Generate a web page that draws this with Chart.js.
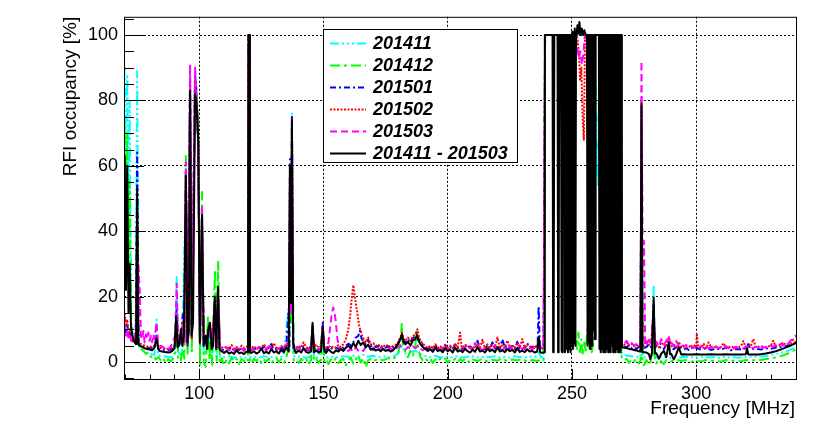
<!DOCTYPE html>
<html>
<head>
<meta charset="utf-8">
<script src="https://cdn.jsdelivr.net/npm/chart.js@4.4.1/dist/chart.umd.min.js"></script>
<style>
body { margin: 0; background: #fff; }
#occ { display: block; }
</style>
</head>
<body>
<canvas id="occ" width="830" height="423"></canvas>
<script>
// RFI occupancy per month, [frequency MHz, occupancy %]
var monthLabels = ['201411', '201412', '201501', '201502', '201503', '201411 - 201503'];

var occ201411 = [[69.7,88],[70,90],[70.5,62],[71,88],[71.5,45],[72,80],[72.6,12],[73.5,8],[74.4,6],[75,89],[75.6,5],[76.5,3.8],[78,3],[80,2.5],[82,2.2],[82.8,13],[83.4,2],[85,1.8],[87,1.6],[89,1.5],[90.3,3],[90.9,26],[91.5,3],[93,2],[94.6,55],[95.3,4],[96.3,88],[97,6],[98.3,89],[99,84],[99.6,60],[100.3,3],[101.1,40],[101.8,2],[103.5,6],[104.3,10],[105,2],[106.3,15],[107,1.5],[107.6,18],[108.3,1.6],[110,1.4],[112,1.8],[114,1.3],[116,1.6],[118,1.2],[119.6,1.5],[119.8,100],[120.2,100],[120.4,1.5],[122,1.7],[124,1.3],[126,1.8],[128,1.4],[130,1.6],[132,1.3],[134,1.9],[135.9,16.7],[136.3,3],[136.5,58],[136.9,15],[137.3,76],[137.8,2],[139,1.5],[141,1.8],[143,1.3],[145,1.6],[145.6,10],[146.2,1.5],[148,1.4],[149.7,9],[150.3,1.6],[152,1.3],[154,1.7],[156,1.4],[158,1.8],[160,1.5],[162,2],[164,1.7],[166,2.2],[168,1.6],[170,1.9],[172,1.5],[174,1.8],[176,1.4],[178,1.7],[180,2.5],[181.5,5],[183,2.6],[185,3],[187,3.5],[189,2.4],[191,1.8],[193,1.5],[195,1.9],[197,1.4],[199,1.7],[201,1.3],[203,1.8],[205,1.5],[207,1.4],[209,1.9],[211,1.5],[213,1.3],[215,1.7],[217,1.5],[219,1.8],[221,1.4],[223,1.6],[225,1.3],[227,1.8],[229,1.5],[231,1.4],[233,1.7],[235,1.5],[236.7,3],[237.5,1.4],[238.6,1.6],[239.2,100],[259.4,100],[260,62],[260.5,54],[261,100],[269.7,100],[270,2.5],[272,2],[274,1.8],[276,1.6],[277.6,1.5],[278,75],[278.4,1.5],[280,1.4],[282.4,1.6],[282.9,23.5],[283.4,1.5],[285,1.3],[287,1.6],[289,1.2],[291,1.5],[293,1.3],[295,1.6],[297,1.4],[299,1.5],[301,1.3],[303,1.6],[305,1.4],[307,1.5],[309,1.3],[311,1.6],[313,1.4],[315,1.5],[317,1.3],[319,1.6],[321,1.5],[323,1.7],[325,1.6],[327,1.8],[329,2],[331,2.3],[333,2.6],[335,3],[337,3.5],[339,4.2],[340.6,5]];

var occ201412 = [[69.7,70],[70,73],[70.5,50],[71,70],[71.5,30],[72,55],[72.6,10],[73.5,7],[74.4,6],[75,50],[75.6,5],[76.5,4],[77.5,3.5],[78.5,2.5],[79.5,3],[80.5,1.5],[81.5,2],[82.5,0.8],[83.5,1.5],[84.5,0.5],[85.5,1.2],[86.5,-0.3],[87.5,0.9],[88.5,0.2],[89.5,1.1],[90.3,2],[90.9,15],[91.5,1],[92.5,0.2],[93.4,5],[94,1],[94.6,63],[95.3,2],[96.3,80],[97,3],[98.3,85],[99,80],[99.6,75],[100.3,-1],[101.1,52],[101.8,0],[102.6,-1.5],[103.5,14],[104.1,0.5],[104.6,8],[105.2,-0.8],[106.3,28],[107,0.5],[107.6,31],[108.3,-0.5],[109,1.2],[110,-1],[111,0.8],[112,-0.4],[113,1.3],[114,0.2],[115,1],[116,-0.6],[117,0.9],[118,0.3],[119,1.2],[119.6,0.5],[119.8,100],[120.2,100],[120.4,0.5],[121,-0.5],[122,1],[123,0.3],[124,1.2],[125,-0.3],[126,0.8],[127,0.1],[128,1.1],[129,-0.5],[130,0.7],[131,1.3],[132,0],[133,0.9],[134,-0.4],[135,1],[136.2,6],[136.5,55],[136.9,12],[137.5,44],[138,0.5],[139,0.8],[140,-0.3],[141,1],[142,0.2],[143,0.9],[144,-0.8],[145,0.6],[145.6,9],[146.2,0.4],[147,1.1],[148,-0.2],[149,0.7],[149.7,8],[150.3,0.3],[151,1],[152,-0.6],[153,0.8],[154,0.1],[155,1.2],[156,-0.3],[157,0.6],[158,1],[159,-1],[160,0.5],[161,1.4],[162,-0.5],[163,0.8],[164,2],[165,-0.2],[166,1.1],[167,-1.6],[168,0.6],[169,0.9],[170,0.2],[172,1],[174,0.5],[176,1.2],[178,0.8],[180,2.5],[181,6],[181.5,11.7],[182,5],[183,3],[184,1.5],[185,3.5],[186,2],[187,5],[187.5,10],[188.2,4],[189,1.5],[190,0.5],[191,1.2],[192,0.2],[193,0.9],[194,-0.3],[195,0.8],[196,0.1],[197,1],[198,0.4],[199,1.1],[200,-0.2],[201,0.7],[202,0.3],[203,1],[204,0],[205,0.9],[206,0.2],[207,1.1],[208,0.4],[209,-0.2],[210,0.8],[212,0.3],[214,1],[216,0.1],[218,0.7],[220,0.4],[222,1.1],[224,0.2],[226,0.8],[228,0.5],[230,1],[232,0.1],[234,0.6],[236,0.3],[238,0.8],[238.6,0.5],[239.2,100],[248.5,100],[249,12],[249.6,6],[250.2,10],[250.8,5],[251.4,8],[252,4],[252.6,9],[253.2,3],[253.8,7],[254.4,2],[255,6],[255.6,3],[256.2,10],[256.8,4],[257.4,8],[258,3],[258.6,6],[259.1,100],[269.7,100],[270,1.5],[271,0.5],[272,1],[273,-0.3],[274,0.8],[275,0.2],[276,1],[277,-0.5],[277.6,0.5],[278,60],[278.4,0.5],[279,-1],[280,0.6],[281,-0.8],[282,0.5],[283,6],[283.5,0.2],[284,-0.4],[285,0.8],[286,0.1],[287,-0.6],[288,0.6],[290,0.2],[292,0.7],[294,0.3],[296,0.6],[298,0.1],[300,0.5],[302,0.2],[304,0.6],[306,0.3],[308,0.5],[310,0.1],[312,0.6],[314,0.3],[316,0.5],[318,0.2],[320,0.6],[322,0.4],[324,0.7],[326,0.6],[328,0.9],[330,1.1],[332,1.4],[334,1.8],[336,2.3],[338,3],[340,3.8],[340.6,4.2]];

var occ201501 = [[69.7,14],[70,13],[70.5,9],[71,12],[71.5,8],[72,9],[72.6,7],[73.5,6],[74.4,5.5],[75,64],[75.6,5.5],[76.5,5],[78,4.5],[80,4.2],[82,4.6],[82.8,8],[83.5,4],[85,3.8],[87,3.5],[89,3.9],[90.3,4.5],[90.9,16],[91.5,4.5],[92.5,6],[93.4,15],[94,6],[94.6,58],[95.3,5],[96.3,86],[97,7],[98.3,87.6],[99,80],[99.6,66],[100.3,5],[101.1,44],[101.8,4.5],[103.5,9],[104.3,11],[105,4.2],[106.3,18],[107,4],[107.6,21],[108.3,4.2],[110,3.6],[111,4.3],[112,3.8],[113,4.6],[114,3.5],[115,4.1],[116,3.7],[117,4.4],[118,3.9],[119,4.2],[119.6,4],[119.8,100],[120.2,100],[120.4,4],[121,3.7],[122,4.2],[123,3.8],[124,4.5],[125,3.6],[126,4.8],[127,3.9],[128,4.3],[129,5.5],[130,3.8],[131,4.1],[132,3.7],[133,4.4],[134,3.9],[135,4.6],[135.9,15],[136.3,5],[136.5,62],[136.9,16],[137.3,75],[137.8,4],[139,3.8],[140,4.5],[141,3.9],[142,4.8],[143,4.1],[144,3.7],[145,4.4],[145.6,11],[146.2,4],[147,4.6],[148,3.8],[149,4.3],[149.7,12],[150.3,4],[151,3.7],[152,4.8],[153,4.2],[154,3.9],[155,4.4],[156,4],[157,4.8],[158,4.3],[159,5],[160,5.6],[161,5.2],[162,6],[163,7.5],[164,8],[164.7,9.6],[165.3,7.2],[166,6.4],[167,5.3],[168,6.8],[169,4.8],[170,5.3],[171,4.5],[172,4.9],[173,4.2],[174,5],[175,4.4],[176,4.8],[177,4.1],[178,4.6],[179,4.9],[180,5.6],[181,7.2],[181.6,8],[182.3,6.5],[183,6],[184,7],[185,6],[186,7.4],[187,7.8],[187.6,9],[188.3,7],[189,6.2],[190,5.3],[191,4.6],[192,4],[193,4.5],[194,3.8],[195,5],[196,4],[197,4.4],[198,3.8],[199,5.2],[200,4],[201,4.7],[202,3.9],[203,5.4],[204,4.1],[205,4.6],[206,3.8],[207,5.5],[208,4.3],[209,4.8],[210,3.9],[211,4.4],[212,6.5],[213,4.2],[214,4.5],[215,3.9],[216,5.3],[217,4.1],[218,6],[219,4.2],[220,4.8],[221,4],[222,7],[223,4.3],[224,5],[225,4.1],[226,4.9],[227,3.9],[228,6.2],[229,4.2],[230,4.6],[231,4],[232,5.8],[233,4.3],[234,4.7],[235,4],[236.2,5],[236.6,17],[237.1,4.5],[238,4.2],[238.6,4],[239.2,100],[269.7,100],[270,5],[271,4.8],[272,4.5],[273,5.2],[274,4.2],[275,4.6],[276,4],[277,4.8],[277.6,4.5],[278,78],[278.4,4.5],[279,4.2],[280,4.6],[281,5.5],[282,4.4],[282.9,18],[283.4,4.3],[284,5],[285,4.2],[286,4.8],[287,4],[288,5.2],[289,4.3],[290,4.5],[291,3.9],[292,4.6],[293,4.1],[294,4.4],[295,3.8],[296,4.2],[297,3.7],[298,4.5],[299,3.9],[300,4.3],[302,3.8],[304,4.2],[306,3.7],[308,4.1],[310,3.8],[312,4.4],[314,3.6],[316,4],[318,3.9],[320,4.2],[321,5.5],[322,3.9],[324,4.1],[326,3.8],[328,4.2],[330,4],[332,4.4],[334,4.5],[336,4.8],[338,5.2],[340,5.8],[340.6,6]];

var occ201502 = [[69.7,16],[70,15],[70.5,11],[71,13],[71.5,9],[72,10],[72.6,7.5],[73.5,6.5],[74.4,6],[75,45],[75.6,6],[76.5,5.5],[78,5],[80,4.6],[82,5],[82.8,8],[83.5,4.5],[85,4.2],[87,4],[89,4.4],[90.3,5],[90.9,14],[91.5,5],[92.5,6.5],[93.4,12],[94,6],[94.6,58],[95.3,5.5],[96.3,85],[97,7],[98.3,86],[99,79],[99.6,66],[100.3,5.5],[101.1,45],[101.8,5],[103.5,9],[104.3,12],[105,4.8],[106.3,19],[107,4.6],[107.6,22],[108.3,4.8],[110,4.2],[111,4.8],[112,4],[113,5.2],[114,4.1],[115,4.6],[116,3.9],[117,5],[118,4.3],[119,4.7],[119.6,4.5],[119.8,100],[120.2,100],[120.4,4.5],[121,4.2],[122,4.9],[123,4],[124,4.6],[125,4.3],[126,5.5],[127,4.1],[128,4.7],[129,4.2],[130,5.8],[131,4.5],[132,4],[133,4.9],[134,4.3],[135,5.1],[136,5],[136.5,60],[136.9,16],[137.3,74],[137.8,5],[139,4.3],[140,5],[141,4.4],[142,6],[143,4.6],[144,4.1],[145,4.9],[145.6,11],[146.2,4.5],[147,5.3],[148,4.4],[149,4.9],[149.7,11],[150.3,4.6],[151,4.2],[152,5],[153,4.4],[154,4.8],[155,4.3],[156,5.2],[157,4.6],[158,5.5],[159,7],[160,10],[160.7,14],[161.3,19],[162,23.5],[162.6,20],[163.2,17],[163.8,14],[164.4,11],[165,9.5],[165.6,8],[166.2,7],[167,6],[168,7.5],[169,5.4],[170,5.8],[171,4.9],[172,5.4],[173,4.6],[174,5.2],[175,4.7],[176,5.3],[177,4.5],[178,4.9],[179,5.2],[180,6],[181,7.8],[181.6,9],[182.3,7],[183,6.5],[184,7.5],[185,6.4],[186,8],[187,8.5],[187.8,10],[188.5,7.5],[189,6.5],[190,5.6],[191,4.9],[192,4.3],[193,5],[194,4.2],[195,5.4],[196,4.4],[197,4.8],[198,4.1],[199,5.3],[200,4.5],[201,5],[202,4.2],[203,5.6],[204,4.4],[205,9],[205.6,4.6],[206,4.3],[207,5.2],[208,4.5],[209,4.9],[210,4.1],[211,4.8],[212,5.6],[213,4.4],[214,6.8],[215,4.2],[216,5.4],[217,4.3],[218,5.2],[219,4.5],[220,7.5],[221,4.4],[222,5.1],[223,4.3],[224,6.6],[225,4.5],[226,5.2],[227,4.2],[228,5.6],[229,4.4],[230,7],[231,4.3],[232,5.3],[233,4.6],[234,5],[235,4.3],[236,5.4],[237,4.8],[238,4.5],[238.6,4.4],[239.2,100],[252,100],[252.8,95],[253.3,86],[253.8,90],[254.3,75],[254.8,68],[255.3,100],[269.7,100],[270,5.5],[271,5.2],[272,6],[273,5],[274,5.5],[275,4.8],[276,5.3],[277,4.6],[277.6,4.8],[278,80],[278.4,4.8],[279,5],[280,6.5],[281,5.2],[282,7],[282.9,16],[283.4,4.8],[284,5.6],[285,4.5],[286,6],[287,5.2],[288,4.6],[289,7.5],[290,4.8],[291,5.3],[292,4.5],[293,6.2],[294,4.6],[295,5],[296,4.4],[297,4.9],[298,4.3],[299,5.2],[300,4.5],[300.3,8.7],[300.8,4.6],[302,4.3],[303,5.6],[304,4.2],[305,6],[306,4.4],[307,4.9],[308,4.1],[310,4.6],[311,5.8],[312,4.3],[314,4.7],[316,4.2],[318,4.8],[319,6.4],[320,4.4],[322,4.9],[323,7],[324,4.5],[326,4.8],[328,4.5],[330,5],[331,6.5],[332,4.8],[334,5.2],[335,6],[336,5.3],[338,5.6],[339,6.8],[340,6],[340.6,6.2]];

var occ201503 = [[69.7,12],[70,11],[70.5,8],[71,10],[71.5,7],[72,8],[72.6,6.5],[73.5,6],[74.4,9],[75,18],[75.5,30],[76,22],[76.5,8],[77,7],[77.5,9.5],[78,6],[78.5,8.5],[79,7],[79.5,9],[80,6.5],[80.5,8],[81,6],[81.5,8.5],[82,7],[82.8,12],[83.4,6],[84,5],[85,4.8],[86,4.2],[87,4.8],[88,4],[89,5.5],[90.3,8],[90.9,24],[91.5,6],[92.5,8],[93.4,10],[94,6],[94.6,61],[95.3,6],[96.3,91],[97,8],[98.3,90],[99,80],[99.6,67],[100.3,7],[101.1,48],[101.8,5.5],[103.5,8],[104.3,11],[105,4.5],[106.3,19],[107,4.2],[107.6,22],[108.3,4.6],[110,3.8],[111,4.5],[112,3.6],[113,4.3],[114,3.5],[115,4.4],[116,3.7],[117,4.1],[118,3.4],[119,4.5],[119.6,4],[119.8,100],[120.2,100],[120.4,4],[121,3.6],[122,4.3],[123,3.5],[124,4.6],[125,3.8],[126,4.2],[127,3.4],[128,5.5],[129,3.8],[130,4.4],[131,3.6],[132,4.1],[133,3.5],[134,4.6],[135,5.5],[136,6],[136.5,60],[136.9,15],[137.3,73],[137.8,5],[139,3.7],[140,4.5],[141,3.6],[142,4.2],[143,3.5],[144,4],[145,3.6],[145.6,10],[146.2,3.8],[147,4.2],[148,3.5],[149,4.4],[149.7,11],[150.3,4],[151,4.5],[152,6],[152.6,10],[153.2,14],[153.9,16.7],[154.5,15],[155,12],[155.6,7],[156.3,4.5],[157,4],[158,3.6],[159,4.2],[160,3.4],[161,4],[162,3.2],[163,4.5],[164,3.5],[165,4],[166,3.4],[167,4.6],[168,3.8],[169,4.2],[170,3.6],[171,4.1],[172,3.5],[173,4.3],[174,3.7],[175,4],[176,3.5],[177,4.2],[178,3.6],[179,4.1],[180,4.5],[181,5],[182,4.4],[183,3.8],[184,4.6],[185,4],[186,4.8],[187,4.2],[188,5],[189,4.1],[190,3.6],[191,4.3],[192,3.5],[193,4],[194,3.4],[195,4.4],[196,3.7],[197,4.2],[198,3.5],[199,4.5],[200,3.8],[201,4.2],[202,3.5],[203,4.3],[204,3.7],[205,4.1],[206,3.4],[207,4.6],[208,3.8],[209,4.4],[210,3.6],[211,5.8],[212,3.9],[213,4.2],[214,3.5],[215,4.6],[216,3.8],[217,4.1],[218,3.6],[219,5.2],[220,3.9],[221,4.4],[222,3.7],[223,4.2],[224,3.5],[225,4.8],[226,3.8],[227,4.3],[228,3.7],[229,5.5],[230,3.9],[231,4.2],[232,3.6],[233,4.4],[234,3.8],[235,4.5],[236,4],[237,4.6],[238,4.2],[238.6,4.4],[239.2,100],[251.5,100],[252,97],[252.8,93],[253.4,95],[254,91],[254.6,94],[255.2,100],[258.4,100],[258.8,66],[259.2,100],[269.7,100],[270,6],[271,5.5],[272,6.5],[273,5.2],[274,5.8],[275,5],[276,5.6],[277,5],[277.6,5.4],[278,92],[278.5,30],[279,37],[279.5,5],[280,5.5],[281,6.8],[282,5.2],[282.9,15],[283.4,5],[284,6.2],[285,4.8],[286,7],[287,5.3],[288,6.5],[289,8],[289.6,5],[290,6],[291,4.8],[292,6.4],[293,5],[294,5.6],[295,4.6],[296,5.2],[297,4.4],[298,5],[299,4.3],[300,4.8],[301,4.2],[302,4.9],[303,4.3],[304,5.1],[305,4.2],[306,4.6],[307,4.1],[308,4.8],[309,4.2],[310,4.5],[311,4.1],[312,4.9],[313,4.2],[314,4.6],[315,4.1],[316,4.7],[317,4.2],[318,4.5],[319,4.1],[320,4.8],[321,4.3],[322,4.6],[323,4.2],[324,4.7],[325,4.3],[326,4.9],[327,4.4],[328,4.6],[329,4.3],[330,5],[331,4.6],[332,5.2],[333,4.8],[334,5.6],[335,5],[336,5.8],[337,5.5],[338,6.6],[339,7],[340,8],[340.6,7.5]];

var occAll = [[69.7,62],[70,63],[70.5,22],[71,60],[71.5,15],[72,30],[72.5,11],[73,8.5],[73.5,7],[74,6],[74.6,5.5],[75,53],[75.4,5.5],[76,5],[77,4.6],[78,4.2],[79,4],[80,3.8],[81,3.6],[82,4.4],[82.8,7.2],[83.5,4],[84,3.4],[85,3.2],[86,3.1],[87,3],[88,2.9],[89,3.3],[90,4.2],[90.7,14],[91.3,4.5],[92,6],[92.6,10],[93.2,5],[93.8,8],[94.6,57],[95.2,6],[95.8,9],[96.3,83],[96.9,8],[97.5,12],[98.3,82],[98.9,79],[99.6,67],[100.2,6],[101.1,45],[101.8,5],[102.6,8],[103.2,4],[103.6,10],[104.3,12],[105,4],[105.6,5],[106.2,20],[106.8,4],[107.5,23],[108.1,4],[109,3.3],[110,2.8],[111,3.4],[112,2.6],[113,3],[114,2.5],[115,3.6],[116,2.7],[117,2.9],[118,2.4],[119,3.2],[119.6,3],[119.8,100],[120.2,100],[120.4,3],[121,2.8],[122,3.3],[123,2.6],[124,3],[125,4.2],[126,2.7],[127,3.1],[128,2.6],[129,4],[130,2.9],[131,3.3],[132,2.6],[133,3.8],[134,3],[135,4.5],[136,3.2],[136.5,60],[136.9,18],[137.3,74],[137.8,6],[138.5,3.4],[139,2.8],[140,3.5],[141,2.9],[142,4.2],[143,3.1],[144,2.8],[145,3.3],[145.6,12],[146.2,3],[147,3.6],[148,2.9],[149,3.2],[149.7,11],[150.3,3.5],[151,2.8],[152,3.9],[153,3.1],[154,2.7],[155,3.6],[156,3.2],[157,4],[158,3.4],[159,4.4],[160,5],[161,4.2],[162,5.8],[163,4.6],[164,6.5],[165,5.2],[166,6],[167,4.5],[168,5.3],[169,3.8],[170,4.2],[171,3.5],[172,3.9],[173,3.3],[174,4.1],[175,3.4],[176,3.8],[177,3.2],[178,3.6],[179,4.5],[180,5.5],[181,7],[181.6,8.5],[182.2,6],[183,5.4],[184,6.2],[185,5],[186,6.6],[187,7],[187.6,8.2],[188.3,6.5],[189,5.5],[190,4.6],[191,4],[192,3.4],[193,3.9],[194,3.1],[195,4.4],[196,3.3],[197,3.7],[198,3],[199,4.2],[200,3.3],[201,3.8],[202,2.9],[203,4.4],[204,3.2],[205,3.6],[206,3],[207,4.1],[208,3.3],[209,2.9],[210,3.8],[211,3.1],[212,4.6],[213,3.2],[214,3.5],[215,2.9],[216,4.2],[217,3.3],[218,3.8],[219,3],[220,4.5],[221,3.2],[222,3.6],[223,3],[224,4],[225,3.3],[226,3.7],[227,2.9],[228,4.3],[229,3.1],[230,3.5],[231,3],[232,3.9],[233,3.2],[234,3.4],[235,2.9],[236,3.2],[236.7,7.6],[237.2,3],[238,2.8],[238.8,3],[239.1,100],[239.3,100],[240.5,100],[242.2,100],[242.45,3],[242.65,3.5],[242.9,100],[244.2,100],[244.45,3],[244.65,4],[244.9,100],[245.6,100],[245.85,3.5],[246.05,3],[246.3,100],[247,100],[247.2,3],[247.4,4],[247.6,100],[248.15,100],[248.4,3],[248.65,100],[248.9,4],[249.15,100],[249.4,3],[249.65,100],[249.9,5],[250.15,101],[250.4,4],[250.65,100],[250.9,6],[251.15,102],[251.4,5],[251.65,101],[251.9,100],[252.2,103],[252.6,100.5],[253,104],[253.5,100],[254,102],[254.5,100],[255,101.5],[255.6,100],[256.05,100],[256.3,5],[256.55,100],[256.8,6],[257.05,100],[257.3,4],[257.55,100],[257.8,8],[258.05,100],[258.3,5],[258.55,100],[258.8,10],[259.05,100],[259.3,7],[259.55,100],[260.85,100],[261.1,4],[261.35,100],[261.6,3],[261.85,100],[262.1,4],[262.35,100],[262.6,3],[262.85,100],[263.1,5],[263.35,100],[263.6,3],[263.85,100],[264.1,4],[264.35,100],[264.6,3],[264.85,100],[265.1,4],[265.35,100],[265.6,3],[265.85,100],[266.1,5],[266.35,100],[266.6,3],[266.85,100],[267.1,4],[267.35,100],[267.6,3],[267.85,100],[268.1,4],[268.35,100],[268.6,3],[268.85,100],[269.1,5],[269.35,100],[269.6,3],[269.85,100],[270.1,4.6],[271,4.4],[272,4.3],[273,4],[274,3.9],[275,3.7],[276,3.5],[277,3.3],[277.6,3.2],[278,79],[278.4,3],[279,3],[280,2.9],[281,2.4],[281.6,0.8],[282.2,2.8],[282.9,19.7],[283.4,2.6],[284,2.7],[285,1],[286,2.6],[287,3.4],[288,1.5],[289,6],[289.5,2.4],[290,2.5],[291,0.8],[292,2.4],[293,4.5],[294,2.3],[295,2.4],[296,2.3],[298,2.3],[300,2.4],[302,2.3],[304,2.3],[306,2.4],[308,2.3],[310,2.3],[312,2.4],[314,2.3],[316,2.3],[318,2.3],[320,2.4],[320.5,4.2],[321,2.3],[323,2.3],[325,2.3],[326,2.4],[328,2.6],[330,2.9],[332,3.3],[334,3.8],[336,4.4],[338,5],[340,5.8],[340.6,6]];

var lineColors = ['#00ffff', '#00ff00', '#0000ff', '#ff0000', '#ff00ff', '#000000'];
var lineDashes = [[9,3,2,3,2,3,2,3], [10,4,3,4], [6,3,2,3], [2,1.5], [7,4], []];

var allSeries = [occ201411, occ201412, occ201501, occ201502, occ201503, occAll];

Chart.defaults.font.family = '"Liberation Sans", Arial, sans-serif';
Chart.defaults.color = '#000';

var datasets = [];
allSeries.forEach(function (pts, i) {
    datasets.push({
        label: monthLabels[i],
        data: pts.map(function (p) { return {x: p[0], y: p[1]}; }),
        borderColor: lineColors[i],
        borderWidth: 2,
        borderDash: lineDashes[i],
        borderJoinStyle: 'round',
        pointRadius: 0,
        tension: 0,
        fill: false,
        order: allSeries.length - 1 - i   // black summary drawn last, on top
    });
});

// ROOT style frame, inside ticks, axis titles and the legend box
var rootStyle = {
    id: 'rootStyle',
    afterDatasetsDraw: function (chart) {
        var ctx = chart.ctx, a = chart.chartArea;
        var xs = chart.scales.x, ys = chart.scales.y;
        ctx.save();
        ctx.strokeStyle = '#000';
        ctx.lineWidth = 1;
        ctx.setLineDash([]);
        ctx.strokeRect(a.left + 0.5, a.top + 0.5, a.right - a.left - 1, a.bottom - a.top - 1);

        ctx.beginPath();
        for (var v = -5; v <= 105; v += 5) {
            var py = Math.round(ys.getPixelForValue(v)) + 0.5;
            var len = (v % 20 === 0) ? 20 : 10;
            ctx.moveTo(a.left, py);
            ctx.lineTo(a.left + len, py);
        }
        for (var f = 70; f <= 340; f += 10) {
            var px = Math.round(xs.getPixelForValue(f)) + 0.5;
            var tl = (f % 50 === 0) ? 11 : 5.5;
            ctx.moveTo(px, a.bottom);
            ctx.lineTo(px, a.bottom - tl);
        }
        ctx.stroke();

        // axis titles
        ctx.fillStyle = '#000';
        ctx.font = '19px "Liberation Sans", Arial, sans-serif';
        ctx.textAlign = 'right';
        ctx.textBaseline = 'alphabetic';
        ctx.fillText('Frequency [MHz]', a.right - 2, 413.5);
        ctx.save();
        ctx.translate(76, a.top);
        ctx.rotate(-Math.PI / 2);
        ctx.fillText('RFI occupancy [%]', 0, 0);
        ctx.restore();

        // legend
        var bx = 323, by = 29, bw = 194, bh = 133;
        ctx.fillStyle = '#fff';
        ctx.fillRect(bx, by, bw, bh);
        ctx.strokeRect(bx + 0.5, by + 0.5, bw, bh);
        ctx.font = 'italic bold 18px "Liberation Sans", Arial, sans-serif';
        ctx.textAlign = 'left';
        ctx.textBaseline = 'middle';
        chart.data.datasets.forEach(function (ds, i) {
            var ry = by + 14.5 + i * 22;
            ctx.strokeStyle = ds.borderColor;
            ctx.lineWidth = 2;
            ctx.setLineDash(ds.borderDash);
            ctx.beginPath();
            ctx.moveTo(bx + 7, ry);
            ctx.lineTo(bx + 43, ry);
            ctx.stroke();
            ctx.setLineDash([]);
            ctx.fillStyle = '#000';
            ctx.fillText(ds.label, bx + 50, ry + 1);
        });
        ctx.restore();
    }
};

var config = {
    type: 'line',
    data: { datasets: datasets },
    options: {
        responsive: false,
        animation: false,
        layout: { padding: { left: 0, top: 13, right: 33, bottom: 0 } },
        plugins: { legend: { display: false }, tooltip: { enabled: false } },
        scales: {
            x: {
                type: 'linear',
                min: 69.7,
                max: 340.6,
                afterFit: function (s) { s.height = 43; },
                ticks: { stepSize: 50, includeBounds: false, maxRotation: 0, padding: 3,
                         font: { size: 18 }, color: '#000' },
                grid: { color: '#000', lineWidth: 1, drawTicks: false },
                border: { display: false, dash: [2, 2] }
            },
            y: {
                min: -5.5,
                max: 105.6,
                afterFit: function (s) { s.width = 124; },
                ticks: { stepSize: 20, includeBounds: false, padding: 6,
                         font: { size: 18 }, color: '#000' },
                grid: { color: '#000', lineWidth: 1, drawTicks: false },
                border: { display: false, dash: [2, 2] }
            }
        }
    },
    plugins: [rootStyle]
};

var ctx = document.getElementById('occ').getContext('2d');
window.occChart = new Chart(ctx, config);
</script>
</body>
</html>
